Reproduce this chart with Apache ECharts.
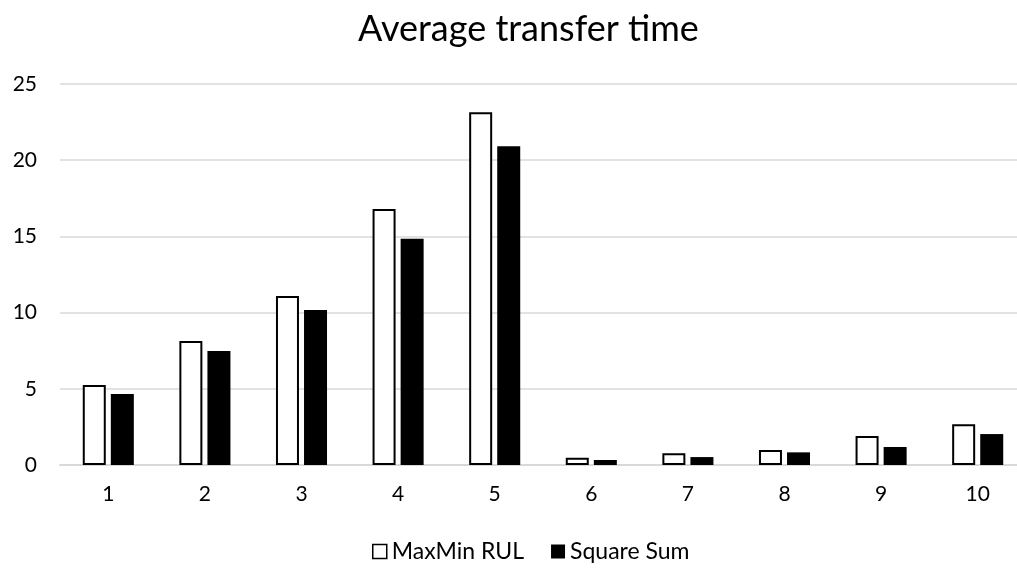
<!DOCTYPE html>
<html>
<head>
<meta charset="utf-8">
<script src="https://cdn.jsdelivr.net/npm/echarts@6/dist/echarts.min.js"></script>
<style>
  html, body { margin: 0; padding: 0; background: #fff; overflow: hidden; }
  /* the plot area runs a little past the right edge of the window */
  #chart { width: 1026px; height: 568px; }
</style>
</head>
<body>
<div id="chart"></div>
<script>
// Average transfer time per case, two scheduling strategies
const categories = ['1', '2', '3', '4', '5', '6', '7', '8', '9', '10'];
const maxMinRul = [5.25, 8.14, 11.09, 16.8, 23.14, 0.48, 0.77, 0.98, 1.9, 2.67];
const squareSum = [4.66, 7.48, 10.17, 14.85, 20.91, 0.33, 0.52, 0.83, 1.18, 2.03];
const yTicks = { min: 0, max: 25, interval: 5 };

const FONT = 'Lato, "Open Sans", sans-serif';

const chart = echarts.init(document.getElementById('chart'), null, { renderer: 'canvas' });
chart.setOption({
  animation: false,
  backgroundColor: '#ffffff',
  title: {
    text: 'Average transfer time',
    left: 353,
    top: 6,
    textStyle: { fontFamily: FONT, fontSize: 36, fontWeight: 'normal', color: '#000' }
  },
  legend: {
    bottom: 0,
    left: 367,
    itemWidth: 14,
    itemHeight: 14,
    itemGap: 27,
    textStyle: { fontFamily: FONT, fontSize: 23, color: '#000' },
    data: [
      { name: 'MaxMin RUL', icon: 'rect', itemStyle: { color: '#fff', borderColor: '#000', borderWidth: 1.5 } },
      { name: 'Square Sum', icon: 'rect', itemStyle: { color: '#000' } }
    ]
  },
  grid: { left: 60, top: 84, right: 0, bottom: 103, containLabel: false },
  xAxis: {
    type: 'category',
    data: categories,
    axisLine: { lineStyle: { color: '#d9d9d9', width: 2 } },
    axisTick: { show: false },
    axisLabel: { fontFamily: FONT, fontSize: 21, color: '#000', margin: 19 }
  },
  yAxis: {
    type: 'value',
    min: yTicks.min,
    max: yTicks.max,
    interval: yTicks.interval,
    axisLine: { show: false },
    axisTick: { show: false },
    splitLine: { lineStyle: { color: '#d9d9d9', width: 1.5 } },
    axisLabel: { fontFamily: FONT, fontSize: 21, color: '#000', margin: 23 }
  },
  series: [
    {
      name: 'MaxMin RUL',
      type: 'bar',
      data: maxMinRul,
      barWidth: 23,
      barGap: '22%',
      itemStyle: { color: '#fff', borderColor: '#000', borderWidth: 2 }
    },
    {
      name: 'Square Sum',
      type: 'bar',
      data: squareSum,
      barWidth: 23,
      itemStyle: { color: '#000' }
    }
  ]
});
</script>
</body>
</html>
